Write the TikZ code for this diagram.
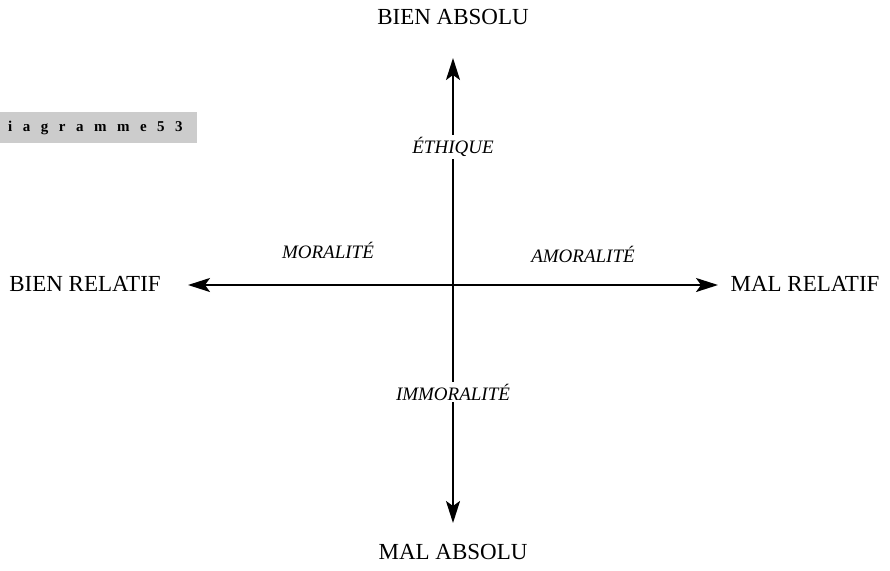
\documentclass[tikz,border=0pt]{standalone}
\usepackage{fontspec}
\setmainfont{Liberation Serif}
\usetikzlibrary{arrows.meta}
\begin{document}
\begin{tikzpicture}[x=1pt,y=-1pt,
  axis/.style={line width=2pt,-{Stealth[length=22pt,width=14pt,inset=5pt]}},
  pole/.style={font=\fontsize{23}{26}\selectfont,inner sep=0pt},
  zone/.style={font=\fontsize{19}{22}\selectfont\itshape,inner sep=2pt},
  gap/.style={zone,fill=white,inner ysep=2pt}]
\useasboundingbox (0,0) rectangle (890,570);
\node[fill=black!20,minimum width=197pt,minimum height=31pt,inner sep=0pt,anchor=north west] (tag) at (0,112) {};
\node[anchor=west,font=\fontsize{15}{17}\selectfont\bfseries,inner sep=0pt] (tagtxt) at (8,128)
  {i\hskip10.5pt a\hskip10.5pt g\hskip10.5pt r\hskip10.5pt a\hskip10.5pt m\hskip10.5pt m\hskip10.5pt e\hskip10.5pt 5\hskip10.5pt 3};
\coordinate (c) at (453,285);
\coordinate (top) at (453,58);
\coordinate (bot) at (453,523);
\coordinate (lft) at (188,285);
\coordinate (rgt) at (718,285);
\draw[axis] (c) -- (top);
\draw[axis] (c) -- (bot);
\draw[axis] (c) -- (lft);
\draw[axis] (c) -- (rgt);
\node[pole] (ba) at (453,17) {BIEN ABSOLU};
\node[pole] (ma) at (453,552) {MAL ABSOLU};
\node[pole] (br) at (85,284) {BIEN RELATIF};
\node[pole] (mr) at (805,284) {MAL RELATIF};
\node[gap] (eth) at (453,147) {ÉTHIQUE};
\node[gap] (imm) at (453,392) {IMMORALITÉ};
\node[zone] (mor) at (328,250) {MORALITÉ};
\node[zone] (amo) at (583,254) {AMORALITÉ};
\end{tikzpicture}
\end{document}
